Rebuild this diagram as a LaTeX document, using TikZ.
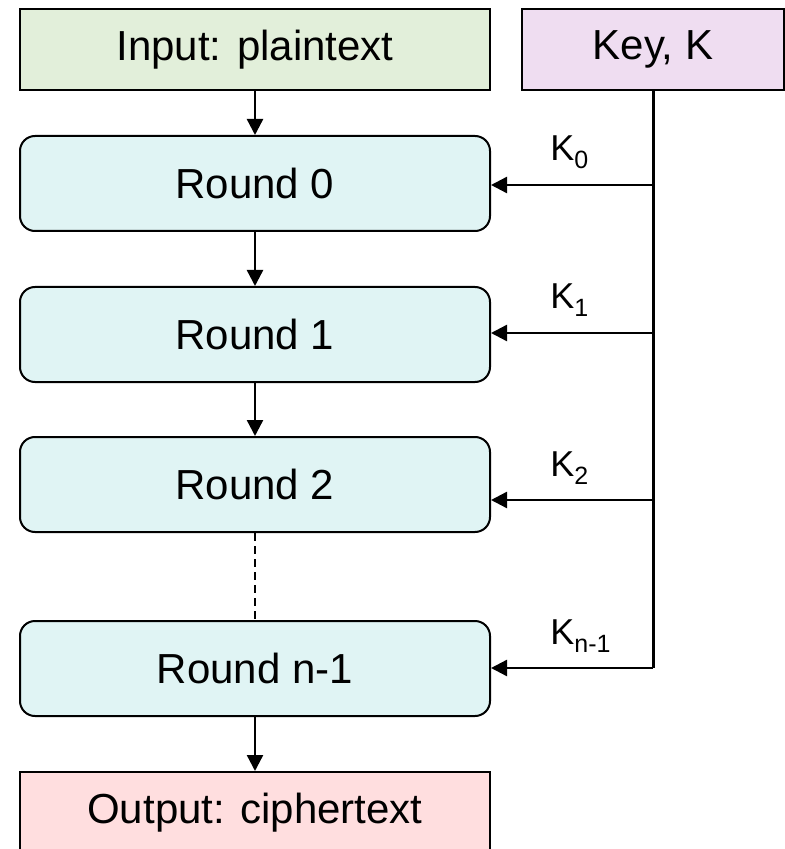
\documentclass[tikz,border=0pt]{standalone}
\usepackage{fontspec}
\setmainfont{Liberation Sans}
\usepackage{tikz}
\usetikzlibrary{arrows.meta,positioning,calc}
\definecolor{infill}{HTML}{E2EFDA}
\definecolor{keyfill}{HTML}{EFDDF1}
\definecolor{rndfill}{HTML}{E0F4F4}
\definecolor{outfill}{HTML}{FFDEDF}
\newcommand{\ksub}[1]{K\raisebox{-4pt}{\fontsize{12.5}{14}\selectfont #1}}
\tikzset{
  blk/.style    = {draw,line width=1pt,inner sep=0pt,minimum width=235pt,
                   minimum height=40.5pt,align=center,
                   font=\fontsize{21}{25}\selectfont},
  ioin/.style   = {blk,fill=infill},
  ioout/.style  = {blk,fill=outfill},
  keyblk/.style = {blk,fill=keyfill,minimum width=131pt},
  rnd/.style    = {blk,fill=rndfill,rounded corners=7.5pt,minimum height=47.5pt},
  sig/.style    = {-{Triangle[length=8pt,width=8pt]},line width=1.2pt},
  trunk/.style  = {line width=1.5pt},
  klbl/.style   = {anchor=base west,inner sep=0pt,
                   font=\fontsize{18}{21}\selectfont},
}
\begin{document}
\begin{tikzpicture}[x=0.5pt,y=-0.5pt]
  \useasboundingbox (0,0) rectangle (784,849);
  % Top row: input and key
  \node[ioin] (in) at (255,49.5) {Input: plaintext};
  \node[keyblk] (key) at (653,49.5) {Key, K};

  % Round chain
  \node[rnd] (r0) at (255,183.5) {Round 0};
  \node[rnd] (r1) at (255,334.5) {Round 1};
  \node[rnd] (r2) at (255,484.5) {Round 2};
  \node[rnd] (rn) at (255,668.5) {Round n-1};
  \node[ioout] (out) at (255,812.5) {Output: ciphertext};

  \draw[sig] (in) -- (r0);
  \draw[sig] (r0) -- (r1);
  \draw[sig] (r1) -- (r2);
  \draw[line width=1.1pt,dash pattern=on 4pt off 2.5pt] (r2) -- (rn);
  \draw[sig] (rn) -- (out);

  % Key schedule trunk and round keys
  \coordinate (t0) at (653,185);
  \coordinate (t1) at (653,333);
  \coordinate (t2) at (653,500);
  \coordinate (tn) at (653,668);
  \draw[trunk] (key.south) -- (tn);
  \foreach \t/\r/\k in {t0/r0/0, t1/r1/1, t2/r2/2, tn/rn/n-1}{
    \draw[sig] (\t) -- (\t -| \r.east);
    \node[klbl] (k\k) at ($(\t)+(-103,-24)$) {\ksub{\k}};
  }
\end{tikzpicture}
\end{document}
